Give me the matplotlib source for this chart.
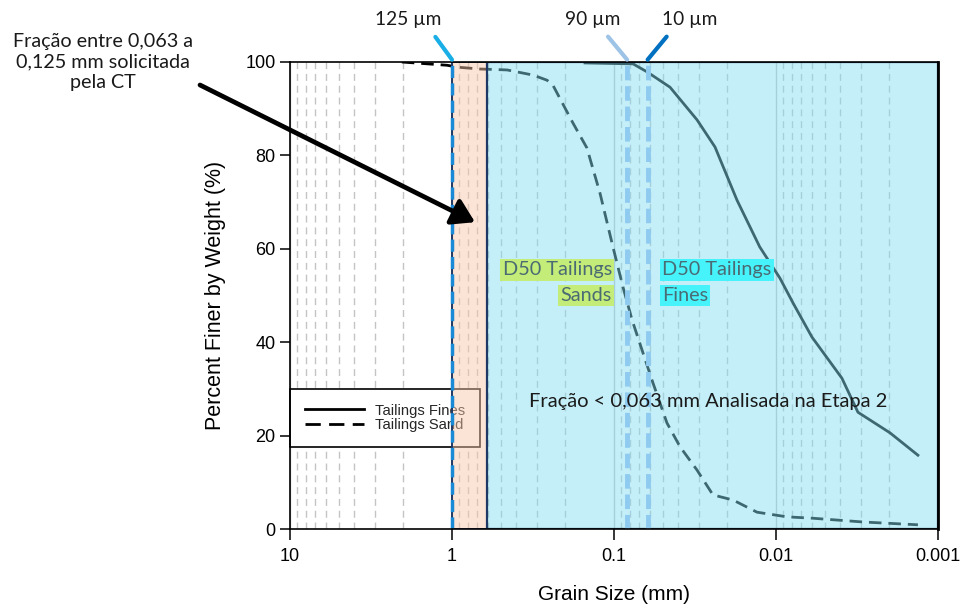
import numpy as np
import matplotlib
matplotlib.use('Agg')
import matplotlib.pyplot as plt
from matplotlib.lines import Line2D

# curvas granulometricas (mm, % passante)
fines_mm = [0.151, 0.0763, 0.0626, 0.0451, 0.0307, 0.0238, 0.0174, 0.0126,
            0.00945, 0.00785, 0.0060, 0.00392, 0.00312, 0.00198, 0.00133]
fines_pct = [99.8, 99.6, 97.9, 94.6, 87.6, 81.8, 70.4, 60.4,
             53.7, 48.4, 41.1, 32.3, 25.0, 20.6, 15.8]

sand_mm = [2.04, 1.07, 0.93, 0.672, 0.457, 0.316, 0.259, 0.238, 0.179, 0.147,
           0.122, 0.1015, 0.088, 0.0774, 0.0583, 0.0471, 0.0391, 0.0307,
           0.0245, 0.0184, 0.0131, 0.00855, 0.0059, 0.0029, 0.00133]
sand_pct = [100, 99.3, 98.9, 98.5, 98.3, 97.2, 96.1, 95.0, 86.9, 81.6,
            71.9, 60.4, 51.8, 44.8, 31.9, 22.7, 17.6, 12.6,
            7.3, 6.2, 3.6, 2.6, 2.3, 1.5, 0.9]

# faixas e linhas de referencia
orange_band = (1.0, 0.608)
cyan_band = (0.608, 0.001)
line_125 = 1.0
line_90 = 0.083
line_10 = 0.062

xticks = [10, 1, 0.1, 0.01, 0.001]
xticklabels = ['10', '1', '0.1', '0.01', '0.001']
yticks = [0, 20, 40, 60, 80, 100]

W, H = 962, 608
calibri = ['Lato', 'DejaVu Sans']
arial = ['Liberation Sans', 'DejaVu Sans']


def px(x, y):
    return (x / W, 1 - y / H)


fig = plt.figure(figsize=(9.62, 6.08), dpi=100)
ax = fig.add_axes([290 / W, 1 - 529 / H, (938 - 290) / W, (529 - 62) / H])

ax.set_xscale('log')
ax.set_xlim(10, 0.001)
ax.set_ylim(0, 100)

ax.plot(fines_mm, fines_pct, color='black', lw=2, zorder=2)
ax.plot(sand_mm, sand_pct, color='black', lw=2, ls=(0, (4.5, 2.5)), zorder=2)

# grade
ax.set_axisbelow(True)
ax.grid(which='minor', axis='x', color='#c4c4c4', lw=1, ls=(0, (5, 3.5)))
ax.grid(which='major', axis='x', color='#c4c4c4', lw=1)

# legenda
handles = [Line2D([], [], color='black', lw=2),
           Line2D([], [], color='black', lw=2, ls=(0, (5.5, 3)))]
leg = ax.legend(handles, ['Tailings Fines', 'Tailings Sand'], loc='lower left',
                bbox_to_anchor=(0, (529 - 447) / 467), borderaxespad=0,
                prop={'family': arial, 'size': 10.6}, handlelength=4.0,
                handletextpad=0.8, borderpad=1.0, labelspacing=0.05,
                fancybox=False, edgecolor='black', framealpha=1)
leg.get_frame().set_linewidth(1.2)
for t in leg.get_texts():
    t.set_color('#262626')
leg.set_zorder(3)

# faixas transparentes por cima
ax.axvspan(*orange_band, facecolor=(248 / 255, 198 / 255, 168 / 255, 0.475),
           edgecolor='#1f3864', lw=1.4, zorder=4)
ax.axvspan(*cyan_band, facecolor=(133 / 255, 223 / 255, 242 / 255, 0.47),
           edgecolor='#1f3864', lw=1.6, zorder=4)

ax.axvline(line_125, color='#1b8ad6', lw=2.5, ls=(0, (3.5, 1.5)), zorder=6)
ax.axvline(line_90, color='#8fcbf0', lw=3.5, ls=(0, (3, 1.2)), zorder=6)
ax.axvline(line_10, color='#8fcbf0', lw=3.5, ls=(0, (3, 1.2)), zorder=6)

ax.set_xticks(xticks)
ax.set_xticklabels(xticklabels)
ax.set_yticks(yticks)
ax.tick_params(axis='both', which='major', direction='out', length=7, width=1.1,
               labelsize=13, colors='black')
ax.tick_params(axis='x', which='major', length=8, pad=6)
ax.tick_params(axis='x', which='minor', length=0)
for lab in ax.get_xticklabels() + ax.get_yticklabels():
    lab.set_family(arial)
for s in ax.spines.values():
    s.set_linewidth(1.2)
    s.set_zorder(7)
ax.spines['right'].set_linewidth(2)

ax.set_xlabel('Grain Size (mm)', family=arial, fontsize=15, labelpad=14)
ax.set_ylabel('Percent Finer by Weight (%)', family=arial, fontsize=15.5, labelpad=14)

# textos
ax.text(0.645, 0.272, 'Fração < 0,063 mm Analisada na Etapa 2', transform=ax.transAxes,
        ha='center', va='center', family=calibri, fontsize=14.5, color='#1a1a1a', zorder=8)

box_g = dict(boxstyle='square,pad=0.12', fc='#c4ec78', ec='none')
box_c = dict(boxstyle='square,pad=0.12', fc='#47f3fa', ec='none')
ax.text(0.497, 0.555, 'D50 Tailings', transform=ax.transAxes, ha='right', va='center',
        family=calibri, fontsize=14.3, color='#4a6b73', bbox=box_g, zorder=8)
ax.text(0.497, 0.500, 'Sands', transform=ax.transAxes, ha='right', va='center',
        family=calibri, fontsize=14.3, color='#4a6b73', bbox=box_g, zorder=8)
ax.text(0.574, 0.555, 'D50 Tailings', transform=ax.transAxes, ha='left', va='center',
        family=calibri, fontsize=14.3, color='#4a6b73', bbox=box_c, zorder=8)
ax.text(0.574, 0.500, 'Fines', transform=ax.transAxes, ha='left', va='center',
        family=calibri, fontsize=14.3, color='#4a6b73', bbox=box_c, zorder=8)

fig.text(*px(103, 62), 'Fração entre 0,063 a\n0,125 mm solicitada\npela CT',
         ha='center', va='center', multialignment='center', family=calibri,
         fontsize=14.2, linespacing=1.25, color='#1a1a1a')

ax.annotate('', xy=(0.721, 65.7), xycoords='data', xytext=px(200, 85),
            textcoords='figure fraction', annotation_clip=False,
            arrowprops=dict(arrowstyle='-|>,head_length=0.45,head_width=0.28',
                            lw=3.4, color='black', mutation_scale=30,
                            shrinkA=0, shrinkB=0), zorder=9)

# rotulos em micrometros com linhas indicadoras
labels_um = [('125 µm', line_125, (408, 20), '#1aaee6', 0.82),
             ('90 µm', line_90, (593, 20), '#9dc3e6', 0.65),
             ('10 µm', line_10, (690, 20), '#0070c0', 0.2)]
for txt, xv, pos, col, rp in labels_um:
    ax.annotate(txt, xy=(xv, 100.5), xycoords='data', xytext=px(*pos),
                textcoords='figure fraction', ha='center', va='center',
                family=calibri, fontsize=13.8, color='#1a1a1a', annotation_clip=False,
                arrowprops=dict(arrowstyle='-', color=col, lw=3, relpos=(rp, 0),
                                shrinkA=5, shrinkB=0), zorder=9)

fig.savefig('out.png', dpi=100)
